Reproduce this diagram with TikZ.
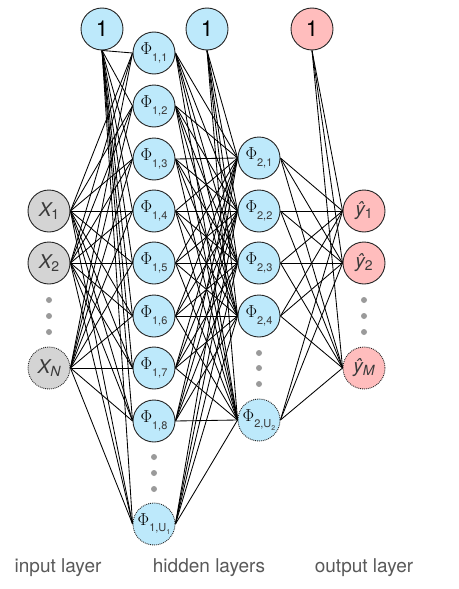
\documentclass[tikz,border=0pt]{standalone}
\usepackage{amsmath}
\usepackage{fontspec}
\setmainfont{TeX Gyre Heros}
\usepackage{tikz}
\usetikzlibrary{backgrounds}
\definecolor{hidblue}{HTML}{BDE9FB}
\definecolor{outpink}{HTML}{FFBDBD}
\definecolor{ingray}{HTML}{D4D4D4}
\definecolor{dotgray}{HTML}{9A9A9A}
\definecolor{txtgray}{HTML}{3A3A3A}
\newcommand{\phisub}[1]{{\fontsize{17}{17}\selectfont\color{black}$\Phi$}\raisebox{-0.45em}{\fontsize{11}{11}\selectfont #1}}
\newcommand{\varsub}[2]{{\itshape #1}\raisebox{-0.12em}{\fontsize{14}{14}\selectfont #2}}

\begin{document}
\begin{tikzpicture}[x=1pt, y=-1pt]
\tikzset{
    neuron/.style={circle, draw=black!85, line width=0.9pt, minimum size=42pt, inner sep=0pt, text=txtgray, font=\fontsize{14}{16}\selectfont},
    input/.style={neuron, fill=ingray, font=\fontsize{19}{21}\selectfont},
    hidden/.style={neuron, fill=hidblue},
    output/.style={neuron, fill=outpink, font=\fontsize{19}{21}\selectfont},
    bias/.style={neuron, text=black, font=\fontsize{22}{24}\selectfont},
    last/.style={densely dotted},
    wire/.style={line width=0.85pt, black},
    layer/.style={text=black!65, font=\fontsize{19}{22}\selectfont}
}
\useasboundingbox (0,0) rectangle (458,589);

% bias units
\node[bias, fill=hidblue] (biasA) at (102,29) {1};
\node[bias, fill=hidblue] (biasB) at (207,29) {1};
\node[bias, fill=outpink] (biasC) at (312,29) {1};

% input layer
\node[input] (in1) at (49,211) {\varsub{X}{1}};
\node[input] (in2) at (49,263) {\varsub{X}{2}};
\node[input, last] (inN) at (49,368) {\varsub{X}{\itshape N}};

% first hidden layer
\foreach \k/\yy in {1/53,2/106,3/159,4/211,5/263,6/316,7/368,8/421}
    \node[hidden] (hA\k) at (154,\yy) {\phisub{1,\k}};
\node[hidden, last] (hAU) at (154,524) {\phisub{1,U\raisebox{-0.2em}{\fontsize{7}{7}\selectfont 1}}};

% second hidden layer
\foreach \k/\yy in {1/158,2/211,3/263,4/316}
    \node[hidden] (hB\k) at (259,\yy) {\phisub{2,\k}};
\node[hidden, last] (hBU) at (259,420) {\phisub{2,U\raisebox{-0.2em}{\fontsize{7}{7}\selectfont 2}}};

% output layer
\node[output] (out1) at (364,211) {\varsub{ŷ}{1}};
\node[output] (out2) at (364,263) {\varsub{ŷ}{2}};
\node[output, last] (outM) at (364,368) {\varsub{ŷ}{\itshape M}};

% dots
\foreach \yy in {300,316,332} {
    \fill[dotgray] (49,\yy) circle (3pt);
    \fill[dotgray] (364,\yy) circle (3pt);
}
\foreach \yy in {457,473,489}
    \fill[dotgray] (154,\yy) circle (3pt);
\foreach \yy in {353,368,384}
    \fill[dotgray] (259,\yy) circle (3pt);

% connections
\begin{scope}[on background layer]
\foreach \t in {1,...,8,U} {
    \draw[wire] (biasA.south) -- (hA\t.west);
    \foreach \s in {1,2,N}
        \draw[wire] (in\s.east) -- (hA\t.west);
}
\foreach \t in {1,...,4,U} {
    \draw[wire] (biasB.south) -- (hB\t.west);
    \foreach \s in {1,...,8,U}
        \draw[wire] (hA\s.east) -- (hB\t.west);
}
\foreach \t in {1,2,M} {
    \draw[wire] (biasC.south) -- (out\t.west);
    \foreach \s in {1,...,4,U}
        \draw[wire] (hB\s.east) -- (out\t.west);
}
\end{scope}

% layer names
\node[layer] (lin) at (58,568) {input layer};
\node[layer] (lhid) at (209,568) {hidden layers};
\node[layer] (lout) at (364,568) {output layer};
\end{tikzpicture}
\end{document}
